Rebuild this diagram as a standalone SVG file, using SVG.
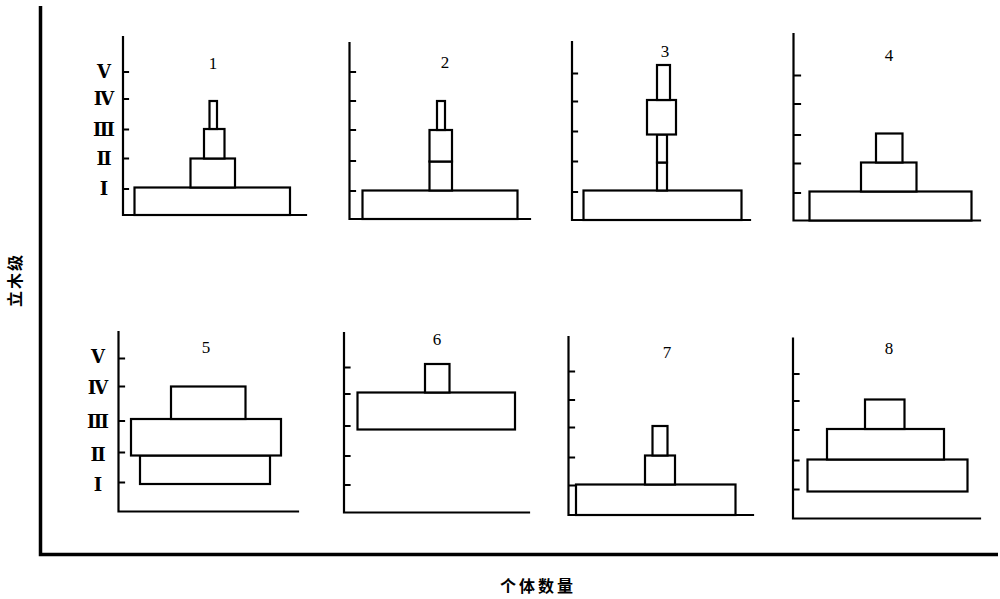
<svg xmlns="http://www.w3.org/2000/svg" width="1000" height="599" viewBox="0 0 1000 599">
<style>
.ax{fill:none;stroke:#000;stroke-width:2.2;stroke-linecap:square}
.bar{fill:#fff;stroke:#000;stroke-width:2.2}
.num{font-family:"Liberation Serif","DejaVu Serif",serif;font-size:17px;fill:#000;text-anchor:middle;dominant-baseline:central}
.rom{font-family:"Liberation Serif","DejaVu Serif",serif;font-size:18px;font-weight:bold;fill:#000;text-anchor:middle;dominant-baseline:central}
.cjk{font-family:"Noto Sans CJK SC",sans-serif;font-size:16px;font-weight:bold;fill:#000;text-anchor:middle;dominant-baseline:central}
</style>
<rect width="1000" height="599" fill="#fff"/>
<g id="frame">
<path d="M40.5 6 V554.5 H998" fill="none" stroke="#000" stroke-width="3.5"/>
<text class="cjk" transform="translate(14 280) rotate(-90)" letter-spacing="2">立木级</text>
<text class="cjk" x="538" y="585" letter-spacing="3">个体数量</text>
</g>
<g id="panel1">
<path class="ax" d="M123 37 V215 H306 M123 72 H128 M123 99 H128 M123 129.5 H128 M123 158.5 H128 M123 189 H128"/>
<text class="rom" x="104" y="72">Ⅴ</text>
<text class="rom" x="104" y="99">Ⅳ</text>
<text class="rom" x="104" y="130">Ⅲ</text>
<text class="rom" x="104" y="159">Ⅱ</text>
<text class="rom" x="104" y="189">Ⅰ</text>
<rect class="bar" x="134.5" y="187.5" width="155.5" height="27.5"/>
<rect class="bar" x="190.5" y="158.5" width="44.5" height="29"/>
<rect class="bar" x="204" y="129" width="20.5" height="29.5"/>
<rect class="bar" x="209.5" y="101" width="7.5" height="28"/>
<text class="num" x="213" y="63">1</text>
</g>
<g id="panel2">
<path class="ax" d="M349.5 43 V219 H530 M349.5 72 H355 M349.5 101 H355 M349.5 130 H355 M349.5 161 H355 M349.5 191 H355"/>
<rect class="bar" x="362.5" y="190.5" width="155" height="28.5"/>
<rect class="bar" x="429.5" y="161.5" width="22.5" height="29"/>
<rect class="bar" x="429.5" y="130" width="22.5" height="31.5"/>
<rect class="bar" x="437" y="101" width="8" height="29"/>
<text class="num" x="445" y="62">2</text>
</g>
<g id="panel3">
<path class="ax" d="M572 42 V220 H750 M572 73.5 H577 M572 101.5 H577 M572 131.5 H577 M572 161.5 H577 M572 192 H577"/>
<rect class="bar" x="583.5" y="190.5" width="158" height="29.5"/>
<rect class="bar" x="657" y="162.5" width="10" height="28"/>
<rect class="bar" x="657" y="134.5" width="10" height="28"/>
<rect class="bar" x="647" y="100" width="29" height="34.5"/>
<rect class="bar" x="657" y="65" width="13" height="35"/>
<text class="num" x="665" y="51">3</text>
</g>
<g id="panel4">
<path class="ax" d="M793.5 34 V220.5 H980 M793.5 75.5 H800 M793.5 104 H800 M793.5 135 H800 M793.5 163.5 H800 M793.5 193 H800"/>
<rect class="bar" x="809.5" y="191.5" width="162" height="29"/>
<rect class="bar" x="861" y="162.5" width="55.5" height="29"/>
<rect class="bar" x="876" y="133.5" width="26.5" height="29"/>
<text class="num" x="889" y="55">4</text>
</g>
<g id="panel5">
<path class="ax" d="M118.5 332 V511.5 H298 M118.5 358.5 H124 M118.5 386.5 H124 M118.5 421 H124 M118.5 452.5 H124 M118.5 482.5 H124"/>
<text class="rom" x="98" y="357">Ⅴ</text>
<text class="rom" x="98" y="388">Ⅳ</text>
<text class="rom" x="98" y="422">Ⅲ</text>
<text class="rom" x="98" y="455">Ⅱ</text>
<text class="rom" x="98" y="485">Ⅰ</text>
<rect class="bar" x="140" y="455.5" width="130" height="28.5"/>
<rect class="bar" x="131" y="419" width="150" height="36.5"/>
<rect class="bar" x="171" y="386.5" width="74.5" height="32.5"/>
<text class="num" x="206" y="347">5</text>
</g>
<g id="panel6">
<path class="ax" d="M344 333 V512.5 H529 M344 367.5 H349.5 M344 394 H349.5 M344 426 H349.5 M344 456 H349.5 M344 485 H349.5"/>
<rect class="bar" x="357.5" y="392.5" width="157.5" height="37"/>
<rect class="bar" x="425" y="364" width="24.5" height="28.5"/>
<text class="num" x="437" y="339">6</text>
</g>
<g id="panel7">
<path class="ax" d="M568.5 337 V515 H753 M568.5 371.5 H574 M568.5 400 H574 M568.5 427.5 H574 M568.5 457.5 H574 M568.5 485.5 H574"/>
<rect class="bar" x="576" y="484.5" width="159.5" height="30.5"/>
<rect class="bar" x="645" y="455.5" width="30" height="29"/>
<rect class="bar" x="652.5" y="426" width="15" height="29.5"/>
<text class="num" x="667" y="352">7</text>
</g>
<g id="panel8">
<path class="ax" d="M793 338.5 V518.5 H980 M793 374 H798.5 M793 401 H798.5 M793 430 H798.5 M793 460.5 H798.5 M793 489.5 H798.5"/>
<rect class="bar" x="807.5" y="459.5" width="160" height="32"/>
<rect class="bar" x="827" y="429" width="117" height="30.5"/>
<rect class="bar" x="865" y="399.5" width="39.5" height="29.5"/>
<text class="num" x="889" y="348">8</text>
</g>
</svg>
